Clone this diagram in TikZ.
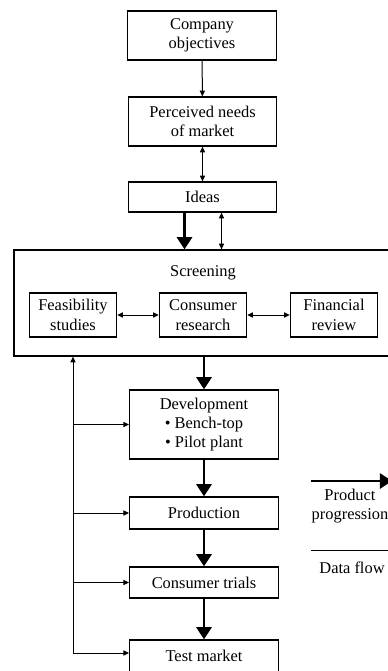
\documentclass[tikz,border=0pt]{standalone}
\usepackage{fontspec}
\setmainfont{Liberation Serif}
\usetikzlibrary{arrows.meta}
\tikzset{
  box/.style={draw, rectangle, line width=0.9pt, align=center, inner sep=2pt, font=\fontsize{11.5}{13.5}\selectfont, minimum width=104pt},
  subbox/.style={box, minimum width=61pt, minimum height=30.8pt},
  txt/.style={align=center, inner sep=0pt, font=\fontsize{11.5}{13.5}\selectfont},
  thin/.style={line width=0.7pt, -{Triangle[length=4pt,width=3.6pt]}},
  thinboth/.style={line width=0.7pt, {Triangle[length=4pt,width=3.6pt]}-{Triangle[length=4pt,width=3.6pt]}},
  thick/.style={line width=2pt, -{Triangle[length=8.5pt,width=10.5pt]}}
}
\begin{document}
\begin{tikzpicture}[x=0.7pt, y=-0.7pt]
\useasboundingbox (0,0) rectangle (388,671);
\node[box, minimum height=34.3pt] (company) at (202, 35.5) {Company\\objectives};
\node[box, minimum height=34.3pt] (needs) at (202.5, 121.5) {Perceived needs\\of market};
\node[box, minimum height=21pt] (ideas) at (202.5, 197) {Ideas};
\node[draw, rectangle, line width=0.9pt, minimum width=270.2pt, minimum height=74.2pt] (screen) at (207, 303) {};
\node[txt] (screenlbl) at (203, 273) {Screening};
\node[subbox] (feas) at (73, 315) {Feasibility\\studies};
\node[subbox] (consumer) at (203, 315) {Consumer\\research};
\node[subbox] (fin) at (334, 315) {Financial\\review};
\node[box, minimum height=48.3pt] (dev) at (204, 424.5) {Development\\{\textbullet} Bench-top\\{\textbullet} Pilot plant};
\node[box, minimum height=22.4pt] (prod) at (204, 513) {Production};
\node[box, minimum height=21.7pt] (trials) at (204, 582.5) {Consumer trials};
\node[box, minimum height=22.4pt] (test) at (204, 656) {Test market};
\coordinate (fb) at (73, 653); % Corner of the feedback line.
% Legend
\coordinate (legA) at (311, 481); \coordinate (legB) at (392, 481);
\coordinate (legC) at (311, 550); \coordinate (legD) at (392, 550);
\node[txt] (leg1) at (350, 506) {Product\\progression};
\node[txt] (leg2) at (352, 568) {Data flow};
\draw[thin] (company) -- (needs);
\draw[thinboth] (needs) -- (ideas);
\draw[thick] ([xshift=-12.6pt]ideas.south) -- ([xshift=-12.6pt]ideas.south |- screen.north);
\draw[thinboth] ([xshift=13.3pt]ideas.south) -- ([xshift=13.3pt]ideas.south |- screen.north);
\draw[thinboth] (feas) -- (consumer);
\draw[thinboth] (consumer) -- (fin);
\draw[thick] (screen.south -| dev.north) -- (dev.north);
\draw[thick] (dev) -- (prod);
\draw[thick] (prod) -- (trials);
\draw[thick] (trials) -- (test);
\draw[thin] (fb) -- (fb |- screen.south);
\draw[thin] (dev.west -| fb) -- (dev.west);
\draw[thin] (prod.west -| fb) -- (prod.west);
\draw[thin] (trials.west -| fb) -- (trials.west);
\draw[thin] (fb) -- (fb -| test.west);
\draw[thick] (legA) -- (legB);
\draw[line width=0.7pt] (legC) -- (legD);
\end{tikzpicture}
\end{document}
